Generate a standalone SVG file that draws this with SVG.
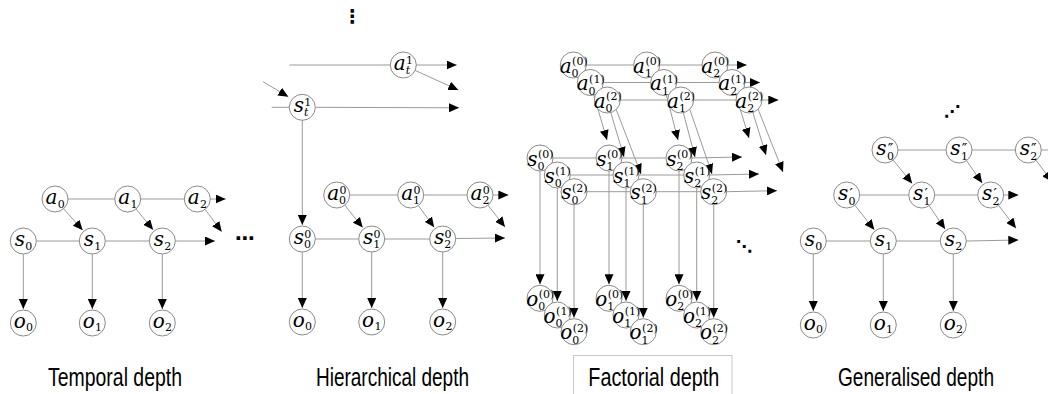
<svg xmlns="http://www.w3.org/2000/svg" width="1048" height="394" viewBox="0 0 1048 394">
<defs>
<marker id="ah" viewBox="0 0 10 9" refX="10" refY="4.5" markerWidth="10" markerHeight="9" markerUnits="userSpaceOnUse" orient="auto"><path d="M0,0 L10,4.5 L0,9 z" fill="#000"/></marker>
<style>
.n circle{fill:#fff;stroke:#8a8a8a;stroke-width:1}
.L{font-family:"DejaVu Serif","Liberation Serif",serif;font-style:italic;font-size:20px;text-anchor:end;fill:#000}
.S{font-family:"DejaVu Serif","Liberation Serif",serif;font-size:11px;fill:#000}
.Si{font-family:"DejaVu Serif","Liberation Serif",serif;font-style:italic;font-size:11px;fill:#000}
.P{font-family:"DejaVu Serif","DejaVu Sans",serif;font-size:15px;fill:#000}
.c line{stroke:#9a9a9a;stroke-width:1;fill:none}
.c .ar{marker-end:url(#ah)}
.cap{font-family:"Liberation Sans",Arial,sans-serif;font-size:25px;fill:#000}
.dots{font-family:"DejaVu Sans",sans-serif;fill:#000}
</style>
</defs>
<rect width="1048" height="394" fill="#fff"/>

<g id="connectors" class="c">
<!-- Panel 1 -->
<line x1="68" y1="199" x2="114.7" y2="199"/>
<line x1="140.7" y1="199" x2="184.3" y2="199"/>
<line class="ar" x1="210.3" y1="199" x2="225.7" y2="199"/>
<line x1="36.3" y1="241" x2="79.3" y2="241"/>
<line x1="105.3" y1="241" x2="149.3" y2="241"/>
<line class="ar" x1="175.3" y1="241" x2="215" y2="241"/>
<line class="ar" x1="63.6" y1="208.7" x2="82.7" y2="230.2"/>
<line class="ar" x1="136" y1="209" x2="153.1" y2="229.8"/>
<line class="ar" x1="205.1" y1="209.4" x2="221.7" y2="231.7"/>
<line class="ar" x1="23.3" y1="254" x2="23.3" y2="309"/>
<line class="ar" x1="92.3" y1="254" x2="92.3" y2="309"/>
<line class="ar" x1="162.3" y1="254" x2="162.3" y2="309"/>
<!-- Panel 2 -->
<line x1="289.3" y1="65" x2="390.3" y2="65"/>
<line class="ar" x1="416.3" y1="65" x2="456.7" y2="65"/>
<line class="ar" x1="415.1" y1="70.4" x2="458.3" y2="90"/>
<line x1="271.7" y1="107.3" x2="289.3" y2="107.3"/>
<line class="ar" x1="263" y1="81.7" x2="288.3" y2="96.7"/>
<line class="ar" x1="315.3" y1="107.3" x2="459" y2="107.8"/>
<line class="ar" x1="302.3" y1="120.3" x2="302.3" y2="225"/>
<line x1="349.7" y1="195" x2="397.7" y2="195"/>
<line x1="423.7" y1="195" x2="467" y2="195"/>
<line class="ar" x1="493" y1="195" x2="508.3" y2="195"/>
<line x1="315.3" y1="239" x2="358.7" y2="239"/>
<line x1="384.7" y1="239" x2="429.7" y2="239"/>
<line class="ar" x1="455.7" y1="238.5" x2="505" y2="238"/>
<line class="ar" x1="344.8" y1="205.2" x2="362.7" y2="227.6"/>
<line class="ar" x1="418.3" y1="205.5" x2="434.2" y2="227.3"/>
<line class="ar" x1="488" y1="205.2" x2="505" y2="227"/>
<line class="ar" x1="302.3" y1="252" x2="302.3" y2="308"/>
<line class="ar" x1="371.7" y1="252" x2="371.7" y2="308"/>
<line class="ar" x1="442.7" y1="252" x2="442.7" y2="308"/>
<!-- Panel 3: action rows -->
<line x1="573.3" y1="65" x2="715" y2="65"/>
<line class="ar" x1="728" y1="65" x2="746.7" y2="65"/>
<line x1="590.3" y1="82.5" x2="732" y2="82.5"/>
<line class="ar" x1="745" y1="82.5" x2="760" y2="82.5"/>
<line x1="607.3" y1="100" x2="749" y2="100"/>
<line class="ar" x1="762" y1="100" x2="778.3" y2="100"/>
<!-- Panel 3: state rows -->
<line x1="540" y1="158" x2="679" y2="158"/>
<line class="ar" x1="692" y1="158" x2="742" y2="157"/>
<line x1="557.3" y1="175" x2="696.7" y2="175"/>
<line class="ar" x1="709.7" y1="175" x2="759" y2="174"/>
<line x1="574" y1="191.7" x2="713.7" y2="191.7"/>
<line class="ar" x1="726.7" y1="191.7" x2="777" y2="190.7"/>
<!-- Panel 3: action to state -->
<line class="ar" x1="590" y1="82" x2="607" y2="140"/>
<line class="ar" x1="607" y1="100" x2="624" y2="157"/>
<line class="ar" x1="616" y1="109" x2="641" y2="174"/>
<line class="ar" x1="663" y1="82" x2="678" y2="140"/>
<line class="ar" x1="680" y1="100" x2="695" y2="157"/>
<line class="ar" x1="690" y1="110" x2="712" y2="174"/>
<line class="ar" x1="732" y1="82" x2="749" y2="138"/>
<line class="ar" x1="749" y1="100" x2="766" y2="155"/>
<line class="ar" x1="758" y1="109" x2="783" y2="172"/>
<!-- Panel 3: state to outcome -->
<line class="ar" x1="540" y1="171" x2="540" y2="284.3"/>
<line class="ar" x1="557.3" y1="188" x2="557.3" y2="301"/>
<line class="ar" x1="574" y1="204.7" x2="574" y2="317.7"/>
<line class="ar" x1="609" y1="171" x2="609" y2="284.3"/>
<line class="ar" x1="626" y1="188" x2="626" y2="301"/>
<line class="ar" x1="643.3" y1="204.7" x2="643.3" y2="317.7"/>
<line class="ar" x1="679" y1="171" x2="679" y2="284.3"/>
<line class="ar" x1="696.7" y1="188" x2="696.7" y2="301"/>
<line class="ar" x1="713.7" y1="204.7" x2="713.7" y2="317.7"/>
<!-- Panel 4 -->
<line x1="898" y1="150" x2="946" y2="150"/>
<line x1="972" y1="150" x2="1015.3" y2="150"/>
<line x1="1041.3" y1="150" x2="1048" y2="150"/>
<line x1="859.7" y1="195" x2="908.7" y2="195"/>
<line x1="934.7" y1="195" x2="977.7" y2="195"/>
<line class="ar" x1="1003.7" y1="195" x2="1018.3" y2="195"/>
<line x1="826.3" y1="241" x2="870.3" y2="241"/>
<line x1="896.3" y1="241" x2="940.3" y2="241"/>
<line class="ar" x1="966.3" y1="241" x2="1018.3" y2="240"/>
<line class="ar" x1="893.2" y1="160.1" x2="912.2" y2="183.4"/>
<line class="ar" x1="966.5" y1="160.6" x2="982.1" y2="183"/>
<line class="ar" x1="1036.1" y1="160.4" x2="1052" y2="181.6"/>
<line class="ar" x1="854.8" y1="205.2" x2="874.3" y2="229.7"/>
<line class="ar" x1="929.1" y1="205.7" x2="945.1" y2="229.1"/>
<line class="ar" x1="998.6" y1="205.3" x2="1016" y2="228.3"/>
<line class="ar" x1="813.3" y1="254" x2="813.3" y2="311"/>
<line class="ar" x1="883.3" y1="254" x2="883.3" y2="311"/>
<line class="ar" x1="953.3" y1="254" x2="953.3" y2="311"/>
</g>

<!-- Panel 1 nodes -->
<g id="p1-a0" class="n"><circle cx="55" cy="199" r="13"/><text class="L" x="57.4" y="204">a</text><text class="S" x="57.7" y="207.5">0</text></g>
<g id="p1-a1" class="n"><circle cx="127.7" cy="199" r="13"/><text class="L" x="130.1" y="204">a</text><text class="S" x="130.4" y="207.5">1</text></g>
<g id="p1-a2" class="n"><circle cx="197.3" cy="199" r="13"/><text class="L" x="199.7" y="204">a</text><text class="S" x="200" y="207.5">2</text></g>
<g id="p1-s0" class="n"><circle cx="23.3" cy="241" r="13"/><text class="L" x="24.9" y="246">s</text><text class="S" x="25.2" y="249.5">0</text></g>
<g id="p1-s1" class="n"><circle cx="92.3" cy="241" r="13"/><text class="L" x="93.9" y="246">s</text><text class="S" x="94.2" y="249.5">1</text></g>
<g id="p1-s2" class="n"><circle cx="162.3" cy="241" r="13"/><text class="L" x="163.9" y="246">s</text><text class="S" x="164.2" y="249.5">2</text></g>
<g id="p1-o0" class="n"><circle cx="23.3" cy="323" r="13"/><text class="L" x="25.7" y="328">o</text><text class="S" x="26" y="331">0</text></g>
<g id="p1-o1" class="n"><circle cx="92.3" cy="323" r="13"/><text class="L" x="94.7" y="328">o</text><text class="S" x="95" y="331">1</text></g>
<g id="p1-o2" class="n"><circle cx="162.3" cy="323" r="13"/><text class="L" x="164.7" y="328">o</text><text class="S" x="165" y="331">2</text></g>
<text class="dots" x="245" y="245" style="font-size:20px;text-anchor:middle;font-weight:bold">⋯</text>

<!-- Panel 2 nodes -->
<g id="p2-at1" class="n"><circle cx="403.3" cy="65" r="13"/><text class="L" x="405.7" y="70">a</text><text class="S" x="406" y="63.5">1</text><text class="Si" x="405.7" y="73.5">t</text></g>
<g id="p2-st1" class="n"><circle cx="302.3" cy="107.3" r="13"/><text class="L" x="303.9" y="112.3">s</text><text class="S" x="304.2" y="105.8">1</text><text class="Si" x="303.9" y="115.8">t</text></g>
<g id="p2-a0" class="n"><circle cx="336.7" cy="195" r="13"/><text class="L" x="339.1" y="200">a</text><text class="S" x="339.4" y="193.5">0</text><text class="S" x="339.1" y="203.5">0</text></g>
<g id="p2-a1" class="n"><circle cx="410.7" cy="195" r="13"/><text class="L" x="413.1" y="200">a</text><text class="S" x="413.4" y="193.5">0</text><text class="S" x="413.1" y="203.5">1</text></g>
<g id="p2-a2" class="n"><circle cx="480" cy="195" r="13"/><text class="L" x="482.4" y="200">a</text><text class="S" x="482.7" y="193.5">0</text><text class="S" x="482.4" y="203.5">2</text></g>
<g id="p2-s0" class="n"><circle cx="302.3" cy="239" r="13"/><text class="L" x="303.9" y="244">s</text><text class="S" x="304.2" y="237.5">0</text><text class="S" x="303.9" y="247.5">0</text></g>
<g id="p2-s1" class="n"><circle cx="371.7" cy="239" r="13"/><text class="L" x="373.3" y="244">s</text><text class="S" x="373.6" y="237.5">0</text><text class="S" x="373.3" y="247.5">1</text></g>
<g id="p2-s2" class="n"><circle cx="442.7" cy="239" r="13"/><text class="L" x="444.3" y="244">s</text><text class="S" x="444.6" y="237.5">0</text><text class="S" x="444.3" y="247.5">2</text></g>
<g id="p2-o0" class="n"><circle cx="302.3" cy="322" r="13"/><text class="L" x="304.7" y="327">o</text><text class="S" x="305" y="330">0</text></g>
<g id="p2-o1" class="n"><circle cx="371.7" cy="322" r="13"/><text class="L" x="374.1" y="327">o</text><text class="S" x="374.4" y="330">1</text></g>
<g id="p2-o2" class="n"><circle cx="442.7" cy="322" r="13"/><text class="L" x="445.1" y="327">o</text><text class="S" x="445.4" y="330">2</text></g>
<text class="dots" x="352.3" y="23" style="font-size:19px;text-anchor:middle;font-weight:bold">⋮</text>

<!-- Panel 3 nodes: actions -->
<g id="p3-a0-0" class="n"><circle cx="573.3" cy="65" r="13"/><text class="L" x="571.6" y="72.5">a</text><text class="S" x="572.1" y="65">(0)</text><text class="S" x="571.6" y="77">0</text></g>
<g id="p3-a1-0" class="n"><circle cx="646.7" cy="65" r="13"/><text class="L" x="645" y="72.5">a</text><text class="S" x="645.5" y="65">(0)</text><text class="S" x="645" y="77">1</text></g>
<g id="p3-a2-0" class="n"><circle cx="715" cy="65" r="13"/><text class="L" x="713.3" y="72.5">a</text><text class="S" x="713.8" y="65">(0)</text><text class="S" x="713.3" y="77">2</text></g>
<g id="p3-a0-1" class="n"><circle cx="590.3" cy="82.5" r="13"/><text class="L" x="588.6" y="90">a</text><text class="S" x="589.1" y="82.5">(1)</text><text class="S" x="588.6" y="94.5">0</text></g>
<g id="p3-a1-1" class="n"><circle cx="663.7" cy="82.5" r="13"/><text class="L" x="662" y="90">a</text><text class="S" x="662.5" y="82.5">(1)</text><text class="S" x="662" y="94.5">1</text></g>
<g id="p3-a2-1" class="n"><circle cx="732" cy="82.5" r="13"/><text class="L" x="730.3" y="90">a</text><text class="S" x="730.8" y="82.5">(1)</text><text class="S" x="730.3" y="94.5">2</text></g>
<g id="p3-a0-2" class="n"><circle cx="607.3" cy="100" r="13"/><text class="L" x="605.6" y="107.5">a</text><text class="S" x="606.1" y="100">(2)</text><text class="S" x="605.6" y="112">0</text></g>
<g id="p3-a1-2" class="n"><circle cx="680.7" cy="100" r="13"/><text class="L" x="679" y="107.5">a</text><text class="S" x="679.5" y="100">(2)</text><text class="S" x="679" y="112">1</text></g>
<g id="p3-a2-2" class="n"><circle cx="749" cy="100" r="13"/><text class="L" x="747.3" y="107.5">a</text><text class="S" x="747.8" y="100">(2)</text><text class="S" x="747.3" y="112">2</text></g>
<!-- Panel 3 nodes: states -->
<g id="p3-s0-0" class="n"><circle cx="540" cy="158" r="13"/><text class="L" x="537.5" y="165.5">s</text><text class="S" x="538" y="158">(0)</text><text class="S" x="537.5" y="170">0</text></g>
<g id="p3-s1-0" class="n"><circle cx="609" cy="158" r="13"/><text class="L" x="606.5" y="165.5">s</text><text class="S" x="607" y="158">(0)</text><text class="S" x="606.5" y="170">1</text></g>
<g id="p3-s2-0" class="n"><circle cx="679" cy="158" r="13"/><text class="L" x="676.5" y="165.5">s</text><text class="S" x="677" y="158">(0)</text><text class="S" x="676.5" y="170">2</text></g>
<g id="p3-s0-1" class="n"><circle cx="557.3" cy="175" r="13"/><text class="L" x="554.8" y="182.5">s</text><text class="S" x="555.3" y="175">(1)</text><text class="S" x="554.8" y="187">0</text></g>
<g id="p3-s1-1" class="n"><circle cx="626" cy="175" r="13"/><text class="L" x="623.5" y="182.5">s</text><text class="S" x="624" y="175">(1)</text><text class="S" x="623.5" y="187">1</text></g>
<g id="p3-s2-1" class="n"><circle cx="696.7" cy="175" r="13"/><text class="L" x="694.2" y="182.5">s</text><text class="S" x="694.7" y="175">(1)</text><text class="S" x="694.2" y="187">2</text></g>
<g id="p3-s0-2" class="n"><circle cx="574" cy="191.7" r="13"/><text class="L" x="571.5" y="199.2">s</text><text class="S" x="572" y="191.7">(2)</text><text class="S" x="571.5" y="203.7">0</text></g>
<g id="p3-s1-2" class="n"><circle cx="643.3" cy="191.7" r="13"/><text class="L" x="640.8" y="199.2">s</text><text class="S" x="641.3" y="191.7">(2)</text><text class="S" x="640.8" y="203.7">1</text></g>
<g id="p3-s2-2" class="n"><circle cx="713.7" cy="191.7" r="13"/><text class="L" x="711.2" y="199.2">s</text><text class="S" x="711.7" y="191.7">(2)</text><text class="S" x="711.2" y="203.7">2</text></g>
<!-- Panel 3 nodes: outcomes -->
<g id="p3-o0-0" class="n"><circle cx="540" cy="298.3" r="13"/><text class="L" x="538.3" y="305.8">o</text><text class="S" x="538.8" y="298.3">(0)</text><text class="S" x="538.3" y="310.3">0</text></g>
<g id="p3-o1-0" class="n"><circle cx="609" cy="298.3" r="13"/><text class="L" x="607.3" y="305.8">o</text><text class="S" x="607.8" y="298.3">(0)</text><text class="S" x="607.3" y="310.3">1</text></g>
<g id="p3-o2-0" class="n"><circle cx="679" cy="298.3" r="13"/><text class="L" x="677.3" y="305.8">o</text><text class="S" x="677.8" y="298.3">(0)</text><text class="S" x="677.3" y="310.3">2</text></g>
<g id="p3-o0-1" class="n"><circle cx="557.3" cy="315" r="13"/><text class="L" x="555.6" y="322.5">o</text><text class="S" x="556.1" y="315">(1)</text><text class="S" x="555.6" y="327">0</text></g>
<g id="p3-o1-1" class="n"><circle cx="626" cy="315" r="13"/><text class="L" x="624.3" y="322.5">o</text><text class="S" x="624.8" y="315">(1)</text><text class="S" x="624.3" y="327">1</text></g>
<g id="p3-o2-1" class="n"><circle cx="696.7" cy="315" r="13"/><text class="L" x="695" y="322.5">o</text><text class="S" x="695.5" y="315">(1)</text><text class="S" x="695" y="327">2</text></g>
<g id="p3-o0-2" class="n"><circle cx="574" cy="331.7" r="13"/><text class="L" x="572.3" y="339.2">o</text><text class="S" x="572.8" y="331.7">(2)</text><text class="S" x="572.3" y="343.7">0</text></g>
<g id="p3-o1-2" class="n"><circle cx="643.3" cy="331.7" r="13"/><text class="L" x="641.6" y="339.2">o</text><text class="S" x="642.1" y="331.7">(2)</text><text class="S" x="641.6" y="343.7">1</text></g>
<g id="p3-o2-2" class="n"><circle cx="713.7" cy="331.7" r="13"/><text class="L" x="712" y="339.2">o</text><text class="S" x="712.5" y="331.7">(2)</text><text class="S" x="712" y="343.7">2</text></g>
<text class="dots" x="744" y="252" style="font-size:16px;text-anchor:middle;font-weight:bold">⋱</text>

<!-- Panel 4 nodes -->
<g id="p4-s0pp" class="n"><circle cx="885" cy="150" r="13"/><text class="L" x="886.6" y="155">s</text><text class="P" x="887.8" y="154">″</text><text class="S" x="886.9" y="159.5">0</text></g>
<g id="p4-s1pp" class="n"><circle cx="959" cy="150" r="13"/><text class="L" x="960.6" y="155">s</text><text class="P" x="961.8" y="154">″</text><text class="S" x="960.9" y="159.5">1</text></g>
<g id="p4-s2pp" class="n"><circle cx="1028.3" cy="150" r="13"/><text class="L" x="1029.9" y="155">s</text><text class="P" x="1031.1" y="154">″</text><text class="S" x="1030.2" y="159.5">2</text></g>
<g id="p4-s0p" class="n"><circle cx="846.7" cy="195" r="13"/><text class="L" x="848.3" y="200">s</text><text class="P" x="849.5" y="199">′</text><text class="S" x="848.6" y="204.5">0</text></g>
<g id="p4-s1p" class="n"><circle cx="921.7" cy="195" r="13"/><text class="L" x="923.3" y="200">s</text><text class="P" x="924.5" y="199">′</text><text class="S" x="923.6" y="204.5">1</text></g>
<g id="p4-s2p" class="n"><circle cx="990.7" cy="195" r="13"/><text class="L" x="992.3" y="200">s</text><text class="P" x="993.5" y="199">′</text><text class="S" x="992.6" y="204.5">2</text></g>
<g id="p4-s0" class="n"><circle cx="813.3" cy="241" r="13"/><text class="L" x="814.9" y="246">s</text><text class="S" x="815.2" y="249.5">0</text></g>
<g id="p4-s1" class="n"><circle cx="883.3" cy="241" r="13"/><text class="L" x="884.9" y="246">s</text><text class="S" x="885.2" y="249.5">1</text></g>
<g id="p4-s2" class="n"><circle cx="953.3" cy="241" r="13"/><text class="L" x="954.9" y="246">s</text><text class="S" x="955.2" y="249.5">2</text></g>
<g id="p4-o0" class="n"><circle cx="813.3" cy="325" r="13"/><text class="L" x="815.7" y="330">o</text><text class="S" x="816" y="333">0</text></g>
<g id="p4-o1" class="n"><circle cx="883.3" cy="325" r="13"/><text class="L" x="885.7" y="330">o</text><text class="S" x="886" y="333">1</text></g>
<g id="p4-o2" class="n"><circle cx="953.3" cy="325" r="13"/><text class="L" x="955.7" y="330">o</text><text class="S" x="956" y="333">2</text></g>
<text class="dots" x="952" y="117" style="font-size:16px;text-anchor:middle;font-weight:bold">⋰</text>

<!-- Captions -->
<g id="captions">
<text class="cap" x="48" y="386" textLength="134" lengthAdjust="spacingAndGlyphs">Temporal depth</text>
<text class="cap" x="316" y="386" textLength="153" lengthAdjust="spacingAndGlyphs">Hierarchical depth</text>
<rect x="573.5" y="355.5" width="158.5" height="45" fill="none" stroke="#c8c8c8" stroke-width="1"/>
<text class="cap" x="588.3" y="386" textLength="131" lengthAdjust="spacingAndGlyphs">Factorial depth</text>
<text class="cap" x="838" y="386" textLength="156" lengthAdjust="spacingAndGlyphs">Generalised depth</text>
</g>
</svg>
